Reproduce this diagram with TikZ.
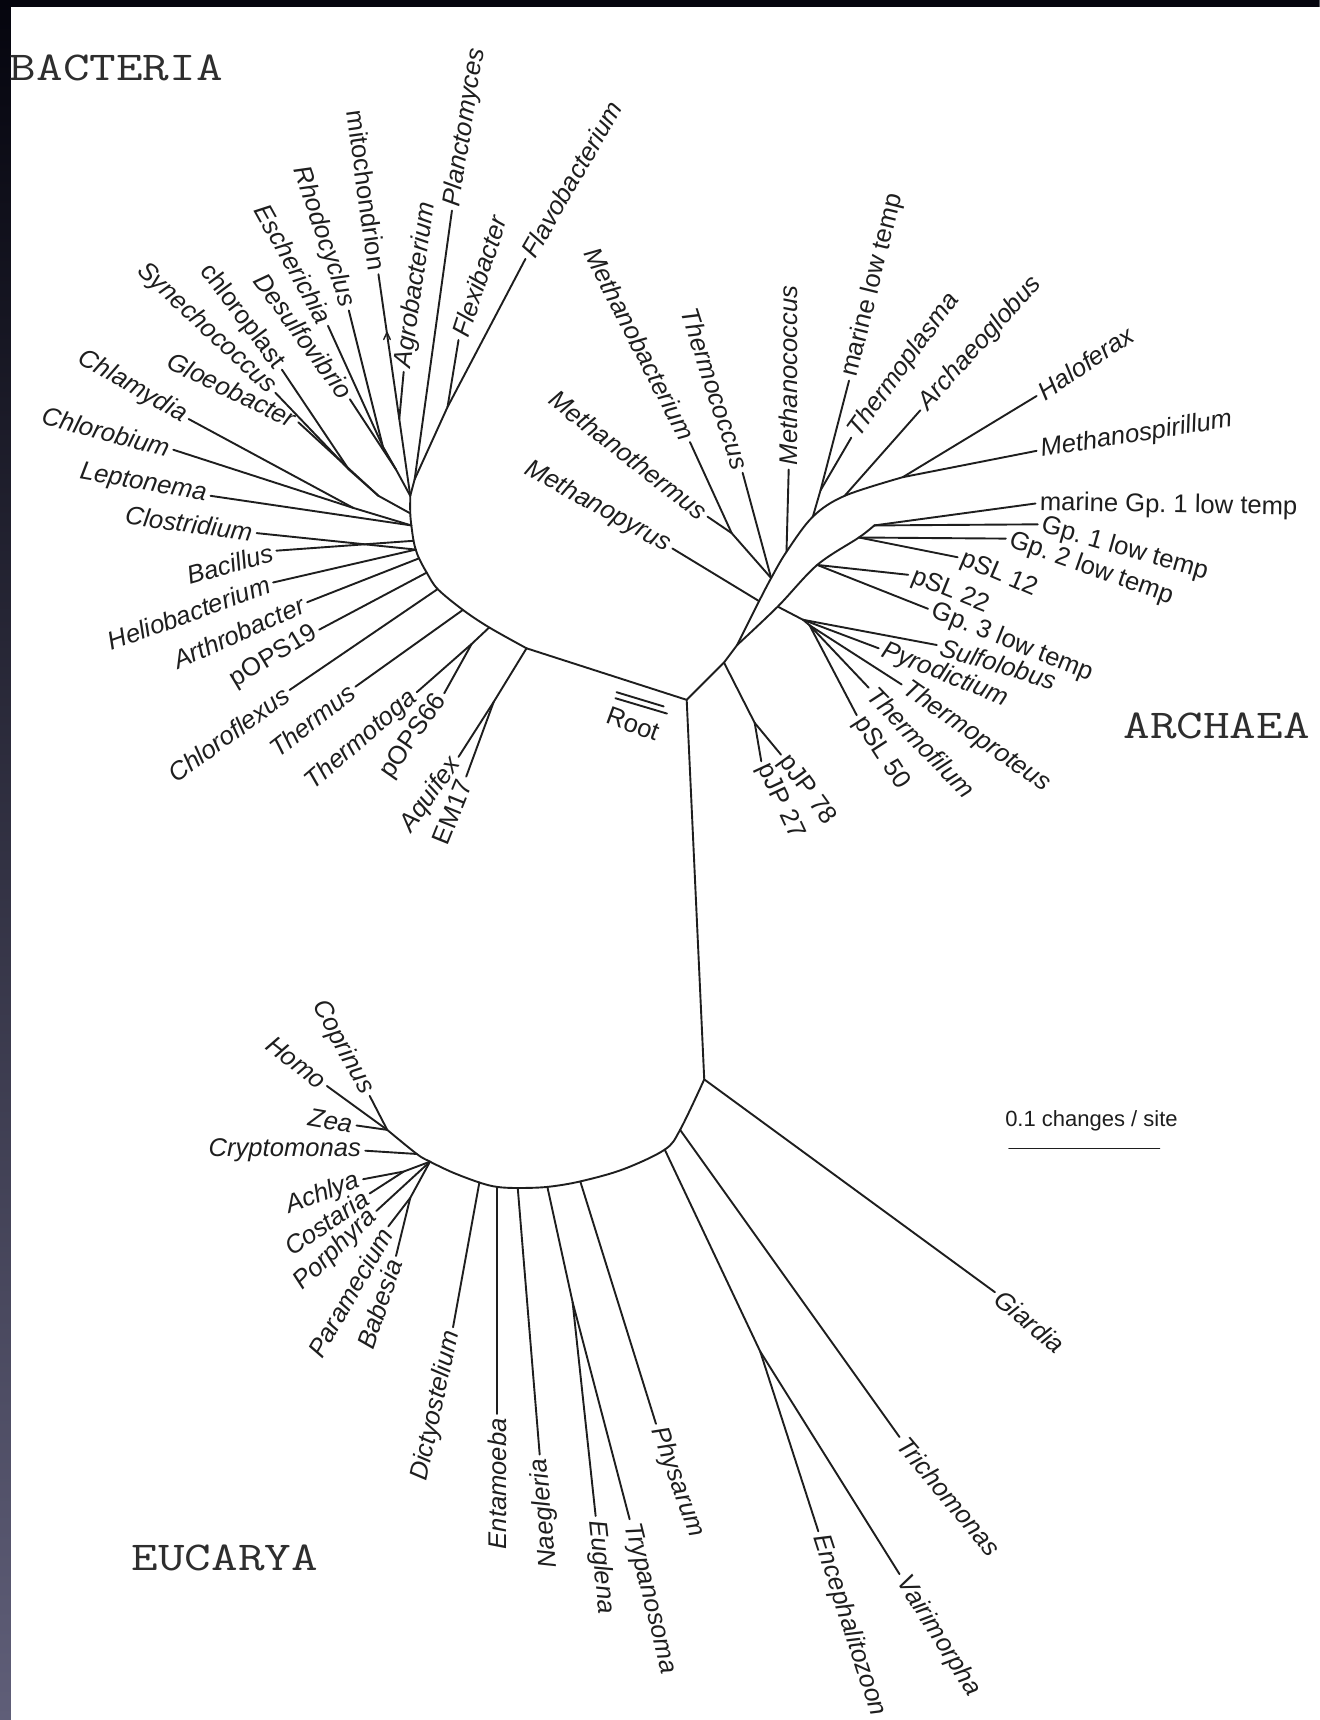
\documentclass[tikz,border=0pt]{standalone}
\usepackage{fontspec}
\setmainfont{Liberation Sans}
\definecolor{frametop}{HTML}{05050E}
\definecolor{framebottom}{HTML}{5F5E78}
\definecolor{ink}{HTML}{1E1E1E}
\newcommand\taxfont{\fontsize{12.8}{15}\selectfont}
\newcommand\domfont{\fontsize{20.5}{24}\selectfont\ttfamily}
% leaf whose label reads away from the tree
\newcommand\tipout[5]{%
  \coordinate (#1) at (#2);
  \node[taxon, anchor=west, rotate=#3, #4] (#1-t) at (#1) {#5};}
% leaf whose label reads towards the tree
\newcommand\tipin[5]{%
  \coordinate (#1) at (#2);
  \node[taxon, anchor=east, rotate=#3, #4] (#1-t) at (#1) {#5};}
\tikzset{
  branch/.style={line width=0.95pt, draw=ink, line cap=round, line join=round},
  taxon/.style={font=\taxfont\itshape, text=ink, inner xsep=2pt, inner ysep=0.5pt},
  upright/.style={font=\taxfont\upshape},
  kingdom/.style={font=\domfont, text=black!82, xscale=1.26, inner sep=0pt},
}
\begin{document}
\begin{tikzpicture}[x=0.5486pt, y=-0.5486pt]
\useasboundingbox (0,0) rectangle (1203,1568);
\clip (0,0) rectangle (1203,1568);
% page and dark frame edges
\fill[white] (0,0) rectangle (1203,1568);
\shade[top color=frametop, bottom color=framebottom] (0,0) rectangle (10,1568);
\fill[frametop] (0,0) rectangle (1203,6);

% ---------------- main stems
\coordinate (R) at (626,638);
\coordinate (B1) at (480,591);
\coordinate (J1) at (660,604);
\coordinate (J2) at (672,588);
\coordinate (E0) at (642,984);
\draw[branch] (B1) -- (R) -- (J1) -- (J2);
\draw[branch] (R) -- (E0);
\draw[branch] (562,631) -- (605,644);
\draw[branch] (561,636.5) -- (608,650.5);
\node[taxon, upright, rotate=-20] (rootlab) at (577,660) {Root};

% ---------------- Bacteria
\coordinate (bA0) at (374,452);
\coordinate (bA1) at (374,468);
\coordinate (bA2) at (375,479);
\coordinate (bA3) at (377,493);
\coordinate (bA4) at (379,501);
\coordinate (bA5) at (382,509);
\coordinate (bA6) at (389,522);
\coordinate (bA7) at (399,537);
\coordinate (bA8) at (422,556);
\coordinate (bA9) at (446,572);
\draw[branch] plot[smooth, tension=0.55] coordinates {(bA0) (bA1) (bA2) (bA3) (bA4) (bA5) (bA6) (bA7) (bA8) (bA9) (B1)};

\coordinate (FF) at (408,371);
\coordinate (P1) at (378,437);
\coordinate (MA) at (364,382);
\coordinate (RE) at (349,407);
\coordinate (RED) at (361,428);
\coordinate (CS) at (318,428);
\coordinate (G) at (345,452);
\coordinate (CC) at (322,463);
\coordinate (TT) at (430,587);
\coordinate (AE) at (450,640);

\tipout{pla}{412,192}{81}{}{Planctomyces}
\tipout{fle}{418,310}{72}{}{Flexibacter}
\tipout{fla}{479,236}{60}{}{Flavobacterium}
\tipout{agr}{368,339}{82}{}{Agrobacterium}
\tipin{mit}{345,250}{-82}{upright}{mitochondrion}
\tipin{rho}{318,283}{-71}{}{Rhodocyclus}
\tipin{esc}{299,297}{-61}{}{Escherichia}
\tipin{des}{319,364}{-54}{}{Desulfovibrio}
\tipin{chl}{257,337}{-53}{upright}{chloroplast}
\tipin{syn}{251,358}{-43}{}{Synechococcus}
\tipin{glo}{272,385}{-26}{}{Gloeobacter}
\tipin{cla}{172,382}{-30}{}{Chlamydia}
\tipin{clb}{158,410}{-15}{}{Chlorobium}
\tipin{lep}{192,452}{-10}{}{Leptonema}
\tipin{clo}{234,486}{-8}{}{Clostridium}
\tipin{bac}{252,502}{16}{}{Bacillus}
\tipin{hel}{249,531}{20}{}{Heliobacterium}
\tipin{art}{280,549}{24}{}{Arthrobacter}
\tipin{p19}{291,574}{31}{upright}{pOPS19}
\tipin{cfl}{264,629}{36}{}{Chloroflexus}
\tipin{ths}{324,626}{38}{}{Thermus}
\tipin{tga}{380,631}{41}{}{Thermotoga}
\tipin{p66}{405,632}{55}{upright}{pOPS66}
\tipin{aqu}{418,690}{54}{}{Aquifex}
\tipin{emx}{425,708}{68}{upright}{EM17}

\draw[branch] (fla) -- (FF) -- (P1) -- (bA0);
\draw[branch] (fle) -- (FF);
\draw[branch] (pla) -- (P1);
\draw[branch] (mit) -- (MA) -- (bA0);
\draw[branch] (agr) -- (MA);
\draw[branch] (rho) -- (RE) -- (RED) -- (bA0);
\draw[branch] (esc) -- (RE);
\draw[branch] (des) -- (RED);
\draw[branch] (chl) -- (CS) -- (G) -- (bA1);
\draw[branch] (syn) -- (CS);
\draw[branch] (glo) -- (G);
\draw[branch] (cla) -- (CC) -- (bA2);
\draw[branch] (clb) -- (CC);
\draw[branch] (lep) -- (bA2);
\draw[branch] (clo) -- (bA4);
\draw[branch] (bac) -- (bA3);
\draw[branch] (hel) -- (bA4);
\draw[branch] (art) -- (bA5);
\draw[branch] (p19) -- (bA6);
\draw[branch] (cfl) -- (bA7);
\draw[branch] (ths) -- (bA8);
\draw[branch] (bA9) -- (TT);
\draw[branch] (TT) -- (tga);
\draw[branch] (TT) -- (p66);
\draw[branch] (B1) -- (AE);
\draw[branch] (AE) -- (aqu);
\draw[branch] (AE) -- (emx);
% small mark on the mitochondrion branch
\draw[branch, line width=0.7pt] (349.8,309.5) -- (352.8,303) -- (355.8,309.5);

% ---------------- Archaea
\coordinate (aM1) at (692,548);
\coordinate (aM2) at (703,527);
\coordinate (aM3) at (717,503);
\coordinate (aM4) at (741,471);
\coordinate (aM5) at (770,452);
\coordinate (HM) at (823,435);
\coordinate (S1) at (709,553);
\coordinate (L1) at (745,515);
\coordinate (L2) at (783,490);
\coordinate (L3) at (797,479);
\coordinate (S2) at (732,565);
\coordinate (S3) at (738,570);
\coordinate (MTB) at (667,486);
\coordinate (MT) at (748,447);
\coordinate (PJ) at (688,659);
\draw[branch] plot[smooth, tension=0.55] coordinates {(J2) (aM1) (aM2) (aM3) (aM4) (aM5) (HM)};
\draw[branch] plot[smooth, tension=0.55] coordinates {(J2) (S1) (L1) (L2) (L3)};

\tipin{mpy}{613,500}{-29}{}{Methanopyrus}
\tipin{mth}{645,471}{-38}{}{Methanothermus}
\tipin{mba}{629,403}{-63}{}{Methanobacterium}
\tipin{tco}{677,431}{-72}{}{Thermococcus}
\tipout{mco}{719,428}{90}{}{Methanococcus}
\tipout{mlt}{774,347}{76}{upright}{marine low temp}
\tipout{tpl}{776,399}{54}{}{Thermoplasma}
\tipout{agl}{839,374}{48}{}{Archaeoglobus}
\tipout{hal}{945,361}{34}{}{Haloferax}
\tipout{msp}{945,411}{9}{}{Methanospirillum}
\tipout{mg1}{944,459}{-1}{upright}{marine Gp.\ 1 low temp}
\tipout{gp1}{946,478}{-16}{upright}{Gp.\ 1 low temp}
\tipout{gp2}{917,491}{-19.5}{upright}{Gp.\ 2 low temp}
\tipout{p12}{873,508}{-23}{upright}{pSL 12}
\tipout{p22}{828,524}{-22}{upright}{pSL 22}
\tipout{gp3}{846,555}{-22}{upright}{Gp.\ 3 low temp}
\tipout{sul}{854,588}{-17}{}{Sulfolobus}
\tipout{pyr}{801,591}{-22}{}{Pyrodictium}
\tipout{tpr}{822,624}{-35}{}{Thermoproteus}
\tipout{tfi}{792,627}{-46}{}{Thermofilum}
\tipout{p50}{781,652}{-57}{upright}{pSL 50}
\tipout{p78}{712,688}{-54}{upright}{pJP 78}
\tipout{p27}{694,694}{-65}{upright}{pJP 27}

\draw[branch] (mpy) -- (aM1);
\draw[branch] (mth) -- (MTB) -- (aM2);
\draw[branch] (mba) -- (MTB);
\draw[branch] (tco) -- (aM2);
\draw[branch] (mco) -- (aM3);
\draw[branch] (mlt) -- (MT) -- (aM4);
\draw[branch] (tpl) -- (MT);
\draw[branch] (agl) -- (aM5);
\draw[branch] (HM) -- (hal);
\draw[branch] (HM) -- (msp);
\draw[branch] (L3) -- (mg1);
\draw[branch] (L3) -- (gp1);
\draw[branch] (L2) -- (gp2);
\draw[branch] (L2) -- (p12);
\draw[branch] (L1) -- (p22);
\draw[branch] (L1) -- (gp3);
\draw[branch] (S1) -- (S2) -- (S3);
\draw[branch] (S2) -- (sul);
\draw[branch] (S2) -- (pyr);
\draw[branch] (S3) -- (tpr);
\draw[branch] (S3) -- (tfi);
\draw[branch] (S3) -- (p50);
\draw[branch] (J1) -- (PJ);
\draw[branch] (PJ) -- (p78);
\draw[branch] (PJ) -- (p27);

% ---------------- Eucarya
\coordinate (E1) at (620,1030);
\coordinate (E2) at (606,1048);
\coordinate (eA) at (568,1066);
\coordinate (EP) at (529,1077);
\coordinate (ET) at (499,1082);
\coordinate (EN) at (472,1083);
\coordinate (EE) at (453,1082);
\coordinate (ED) at (437,1078);
\coordinate (eB) at (413,1069);
\coordinate (HE2) at (392,1059);
\coordinate (HE1) at (380,1052);
\coordinate (H1) at (353,1030);
\coordinate (V) at (693,1232);
\coordinate (EG) at (522,1187);
\coordinate (AC) at (368,1068);
\coordinate (PB) at (374,1092);
\draw[branch] plot[smooth, tension=0.55] coordinates {(E0) (E1) (E2) (eA) (EP) (ET) (EN) (EE) (ED) (eB) (HE2) (HE1) (H1)};

\tipout{gia}{907,1178}{-40}{}{Giardia}
\tipout{tri}{820,1310}{-50}{}{Trichomonas}
\tipout{vai}{820,1435}{-58}{}{Vairimorpha}
\tipout{enc}{746,1396}{-72}{}{Encephalitozoon}
\tipout{phy}{598,1298}{-70}{}{Physarum}
\tipout{try}{574,1385}{-76}{}{Trypanosoma}
\tipout{eug}{543,1382}{-84}{}{Euglena}
\tipin{nae}{492,1326}{95}{}{Naegleria}
\tipin{ent}{453,1289}{90}{}{Entamoeba}
\tipin{dic}{413,1210}{78}{}{Dictyostelium}
\tipin{bab}{361,1145}{71}{}{Babesia}
\tipin{par}{354,1118}{60}{}{Paramecium}
\tipin{por}{343,1104}{44}{}{Porphyra}
\tipin{cst}{337,1088}{34}{}{Costaria}
\tipin{ach}{331,1075}{20}{}{Achlya}
\tipin{cry}{333,1049}{0}{}{Cryptomonas}
\tipin{zea}{325,1026}{-10}{}{Zea}
\tipin{hom}{298,990}{-38}{}{Homo}
\tipin{cop}{337,999}{-61}{}{Coprinus}

\draw[branch] (E0) -- (gia);
\draw[branch] (E1) -- (tri);
\draw[branch] (E2) -- (V) -- (enc);
\draw[branch] (V) -- (vai);
\draw[branch] (EP) -- (phy);
\draw[branch] (ET) -- (EG) -- (eug);
\draw[branch] (EG) -- (try);
\draw[branch] (EN) -- (nae);
\draw[branch] (EE) -- (ent);
\draw[branch] (ED) -- (dic);
\draw[branch] (H1) -- (cop);
\draw[branch] (H1) -- (hom);
\draw[branch] (H1) -- (zea);
\draw[branch] (HE1) -- (cry);
\draw[branch] (HE2) -- (AC) -- (ach);
\draw[branch] (AC) -- (cst);
\draw[branch] (HE2) -- (por);
\draw[branch] (HE2) -- (PB) -- (par);
\draw[branch] (PB) -- (bab);

% ---------------- domain names and scale
\node[kingdom] (bacteria) at (106,62) {BACTERIA};
\node[kingdom] (archaea) at (1109,662) {ARCHAEA};
\node[kingdom] (eucarya) at (205,1420) {EUCARYA};

\node[font=\fontsize{11}{13}\selectfont, text=ink] (scaletext) at (995,1022) {0.1 changes / site};
\coordinate (sbL) at (920,1047);
\coordinate (sbR) at (1057,1047);
\draw[branch] (sbL) -- (sbR);
\end{tikzpicture}
\end{document}
